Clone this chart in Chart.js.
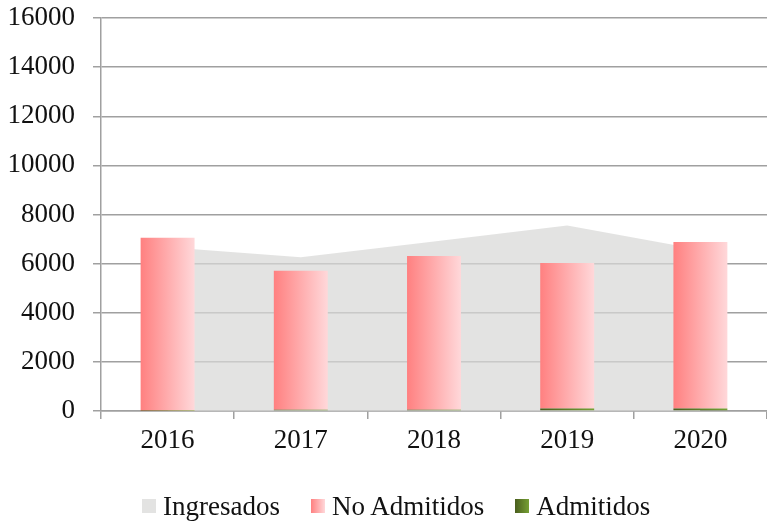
<!DOCTYPE html>
<html>
<head>
<meta charset="utf-8">
<script src="https://cdn.jsdelivr.net/npm/chart.js@4"></script>
<style>
  body { margin: 0; background: #fff; }
  #wrap { position: relative; width: 767px; height: 523px; }
  #legend {
    position: absolute; left: 142px; top: 489px; height: 34px;
    display: flex; align-items: center;
    font-family: "Liberation Serif", serif; font-size: 27px; color: #111;
  }
  .item { display: flex; align-items: center; margin-right: 31px; }
  .box { width: 14px; height: 14px; margin-right: 7px; }
</style>
</head>
<body>
<div id="wrap">
  <canvas id="chart" width="767" height="523"></canvas>
  <div id="legend">
    <div class="item"><span class="box" style="background:#e3e3e2"></span>Ingresados</div>
    <div class="item"><span class="box" style="background:linear-gradient(to right,#ff8080,#ffd8da)"></span>No Admitidos</div>
    <div class="item"><span class="box" style="background:linear-gradient(to right,#4a5e1e,#76a034)"></span>Admitidos</div>
  </div>
</div>
<script>
const years = ['2016', '2017', '2018', '2019', '2020'];
const ingresados = [6670, 6260, 6900, 7550, 6560];
const noAdmitidos = [7040, 5650, 6260, 5930, 6780];
const admitidos = [10, 55, 55, 100, 100];
const yTicks = [0, 2000, 4000, 6000, 8000, 10000, 12000, 14000, 16000];

const BAR_PCT = 0.405;
const gridColor = '#a0a0a0';
const font = { family: '"Liberation Serif", serif', size: 27 };

// horizontal gradient across each bar
function barGradient(c0, c1) {
  return function(ctx) {
    const chart = ctx.chart;
    const xs = chart.scales.x;
    const area = chart.chartArea;
    if (!xs || !area || ctx.dataIndex === undefined) return c0;
    const cx = xs.getPixelForValue(ctx.dataIndex);
    const w = (area.right - area.left) / years.length * BAR_PCT;
    const g = chart.ctx.createLinearGradient(cx - w / 2, 0, cx + w / 2, 0);
    g.addColorStop(0, c0);
    g.addColorStop(1, c1);
    return g;
  };
}

new Chart(document.getElementById('chart'), {
  type: 'bar',
  data: {
    labels: years,
    datasets: [
      {
        type: 'line',
        label: 'Ingresados',
        data: ingresados,
        stack: 'area',
        fill: 'origin',
        backgroundColor: 'rgba(216,216,215,0.72)',
        borderWidth: 0,
        pointRadius: 0,
        tension: 0,
        order: 3
      },
      {
        label: 'Admitidos',
        data: admitidos,
        stack: 'bars',
        backgroundColor: barGradient('#4a5e1e', '#76a034'),
        barPercentage: BAR_PCT,
        categoryPercentage: 1,
        order: 1
      },
      {
        label: 'No Admitidos',
        data: noAdmitidos,
        stack: 'bars',
        backgroundColor: barGradient('#ff8080', '#ffd8da'),
        barPercentage: BAR_PCT,
        categoryPercentage: 1,
        order: 2
      }
    ]
  },
  options: {
    responsive: false,
    animation: false,
    layout: { padding: { top: 18, right: 0, bottom: 52, left: 0 } },
    plugins: { legend: { display: false }, tooltip: { enabled: false } },
    scales: {
      x: {
        stacked: true,
        offset: true,
        grid: { offset: true, drawOnChartArea: false, color: gridColor, lineWidth: 1.5, tickLength: 8 },
        border: { color: gridColor, width: 1.5 },
        ticks: { font: font, color: '#111', padding: 6, maxRotation: 0 },
        afterFit: s => { s.height = 60; }
      },
      y: {
        stacked: true,
        min: 0,
        max: 16000,
        afterBuildTicks: s => { s.ticks = yTicks.map(v => ({ value: v })); },
        grid: { color: gridColor, lineWidth: 1.5, tickLength: 8 },
        border: { color: gridColor, width: 1.5 },
        ticks: { font: font, color: '#111', padding: 18, callback: v => String(v) },
        afterFit: s => { s.width = 101; s.paddingTop = 0; s.paddingBottom = 0; }
      }
    }
  }
});
</script>
</body>
</html>
